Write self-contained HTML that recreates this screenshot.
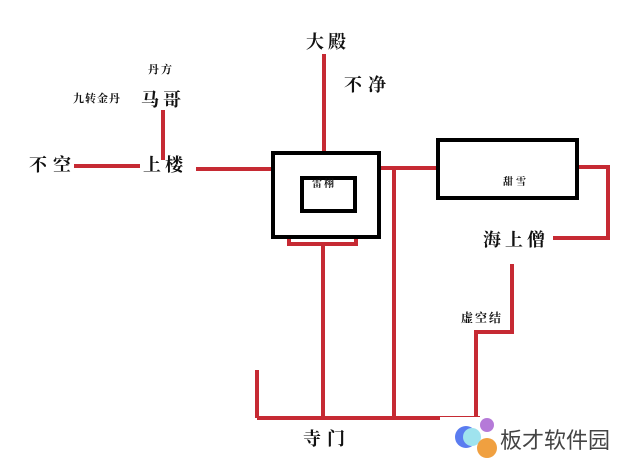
<!DOCTYPE html><html><head><meta charset="utf-8"><style>
body{margin:0;width:639px;height:467px;background:#fff;overflow:hidden;position:relative;font-family:"Liberation Serif","Noto Serif CJK SC",serif;}
.t{position:absolute;color:#111;font-weight:bold;white-space:nowrap;line-height:1}
</style></head><body>
<svg width="639" height="467" style="position:absolute;left:0;top:0">
<g stroke="#c62a33" stroke-width="4" fill="none">
<line x1="324" y1="54" x2="324" y2="151"/>
<line x1="74" y1="166" x2="140" y2="166"/>
<line x1="163" y1="110" x2="163" y2="160"/>
<line x1="196" y1="169" x2="272" y2="169"/>
<line x1="381" y1="168" x2="436" y2="168"/>
<line x1="394" y1="168" x2="394" y2="418"/>
<line x1="257" y1="418" x2="480" y2="418"/>
<line x1="257" y1="370" x2="257" y2="418"/>
<line x1="323" y1="244" x2="323" y2="418"/>
<polyline points="289,238 289,244 356,244 356,238"/>
<polyline points="579,167 608,167 608,238 553,238"/>
<polyline points="512,264 512,332 476,332 476,418"/>
</g>
<rect x="273" y="153" width="106" height="84" fill="none" stroke="#000" stroke-width="4"/>
<rect x="302" y="178" width="53" height="33" fill="none" stroke="#000" stroke-width="4"/>
<rect x="438" y="140" width="139" height="58" fill="none" stroke="#000" stroke-width="4"/>
<rect x="440" y="417" width="199" height="50" fill="#fff"/>
<circle cx="466" cy="437" r="11" fill="#5a7cf0"/>
<circle cx="472" cy="437" r="9" fill="#9fe3ee"/>
<circle cx="487" cy="425" r="7" fill="#b57ad8"/>
<circle cx="487" cy="448" r="10" fill="#f0a040"/>
</svg>
<div class="t" style="left:306px;top:33px;font-size:18px;letter-spacing:4px">大殿</div>
<div class="t" style="left:344px;top:76px;font-size:18px;letter-spacing:6px">不净</div>
<div class="t" style="left:148px;top:65px;font-size:11px;letter-spacing:2px">丹方</div>
<div class="t" style="left:73px;top:94px;font-size:11px;letter-spacing:1px">九转金丹</div>
<div class="t" style="left:141px;top:91px;font-size:18px;letter-spacing:4px">马哥</div>
<div class="t" style="left:29px;top:156px;font-size:18px;letter-spacing:6px">不空</div>
<div class="t" style="left:143px;top:156px;font-size:18px;letter-spacing:4px">上楼</div>
<div class="t" style="left:312px;top:180px;font-size:10px;letter-spacing:2px">雷栩</div>
<div class="t" style="left:503px;top:178px;font-size:10px;letter-spacing:3px">甜雪</div>
<div class="t" style="left:483px;top:231px;font-size:18px;letter-spacing:4px">海上僧</div>
<div class="t" style="left:461px;top:312px;font-size:12px;letter-spacing:2px">虚空结</div>
<div class="t" style="left:303px;top:430px;font-size:18px;letter-spacing:6px">寺门</div>
<div class="t" style="left:500px;top:430px;font-size:22px;font-weight:normal;color:#444;font-family:'Liberation Sans','Noto Sans CJK SC',sans-serif">板才软件园</div>
</body></html>
